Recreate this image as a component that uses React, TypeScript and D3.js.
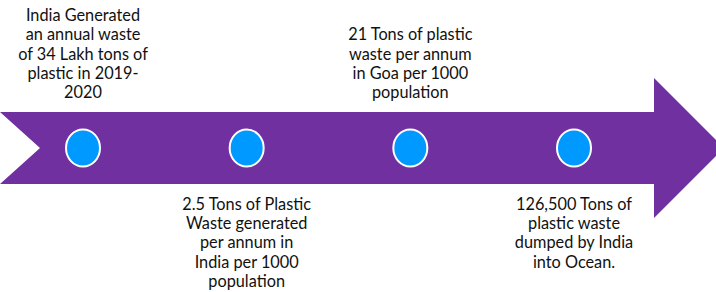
/**
 * D3 timeline arrow with plastic waste milestones.
 */
import * as d3 from 'd3';
import { useEffect, useRef } from 'react';

const milestones = ['m1', 'm2', 'm3', 'm4'];
const sides = ['above', 'below', 'above', 'below'];
const labels = [
  ['India Generated', 'an annual waste', 'of 34 Lakh tons of', 'plastic in 2019-', '2020'],
  ['2.5 Tons of Plastic', 'Waste generated', 'per annum in', 'India per 1000', 'population'],
  ['21 Tons of plastic', 'waste per annum', 'in Goa per 1000', 'population'],
  ['126,500 Tons of', 'plastic waste', 'dumped by India', 'into Ocean.'],
];

export default function App() {
  const svgRef = useRef<SVGSVGElement>(null);

  useEffect(() => {
    if (!svgRef.current) return;
    const width = 716;
    const height = 292;

    const svg = d3.select(svgRef.current);
    svg.selectAll('*').remove();
    svg.attr('width', width).attr('height', height);

    const midY = 148;
    const shaftTop = 112;
    const shaftBottom = 184;
    const headX = 654;
    const headTop = 78;
    const headBottom = 218;
    const tipX = 724;
    const notchX = 40;

    const arrow: [number, number][] = [
      [0, shaftTop],
      [headX, shaftTop],
      [headX, headTop],
      [tipX, midY],
      [headX, headBottom],
      [headX, shaftBottom],
      [0, shaftBottom],
      [notchX, midY],
    ];

    svg
      .append('path')
      .attr('d', d3.line()(arrow) + 'Z')
      .attr('fill', '#7030A0');

    const x = d3.scalePoint().domain(milestones).range([83, 574]);

    svg
      .selectAll('ellipse')
      .data(milestones)
      .join('ellipse')
      .attr('cx', (d) => x(d) ?? 0)
      .attr('cy', midY)
      .attr('rx', 17)
      .attr('ry', 18.5)
      .attr('fill', '#0099FF')
      .attr('stroke', '#ffffff')
      .attr('stroke-width', 2);

    const lineH = 19.2;
    const g = svg
      .selectAll('text')
      .data(milestones)
      .join('text')
      .attr('text-anchor', 'middle')
      .attr('font-family', 'Lato, "Open Sans", sans-serif')
      .attr('font-size', 16.3)
      .attr('fill', '#111');

    g.each(function (d, i) {
      const lines = labels[i];
      const startY = sides[i] === 'above' ? 98 - (lines.length - 1) * lineH : 210;
      d3.select(this)
        .selectAll('tspan')
        .data(lines)
        .join('tspan')
        .attr('x', x(d) ?? 0)
        .attr('y', (_, j) => startY + j * lineH)
        .text((t) => t);
    });
  }, []);

  return <svg ref={svgRef} style={{ position: 'absolute', left: 0, top: 0 }} />;
}
